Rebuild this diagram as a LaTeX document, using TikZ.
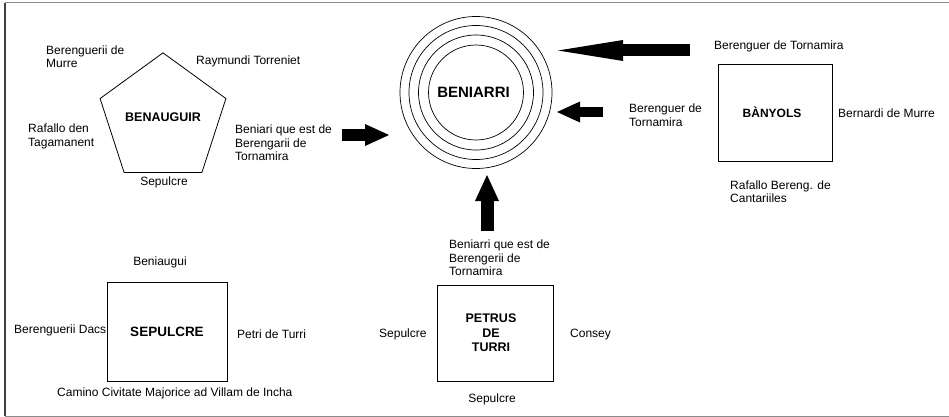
\documentclass[tikz,border=0pt]{standalone}
\usepackage{fontspec}
\setmainfont{Liberation Sans}
\usepackage{tikz}
\usepackage{xcolor}
\usetikzlibrary{shapes.geometric, arrows.meta, positioning}

\tikzset{
  lbl/.style={inner sep=0pt, align=left, font=\fontsize{12}{13.5}\selectfont},
  place/.style={draw, line width=0.8pt, inner sep=0pt, align=center, font=\bfseries\fontsize{12.5}{14.5}\selectfont},
  ring/.style={circle, draw, line width=0.7pt, inner sep=0pt},
  blockarrow/.style n args={3}{line width=#1, -{Triangle[length=#2, width=#3, line width=0pt]}}
}

\begin{document}
\begin{tikzpicture}[x=1pt, y=-1pt]
\useasboundingbox (0,0) rectangle (949,417);
% frame
\draw[black!75, line width=1.2pt] (5,416) -- (5,3);
\draw[black!45, line width=1pt] (5,3) -- (949,3);
\draw[black!45, line width=1pt] (5,416) -- (949,416);

% Benauguir
\node[place, regular polygon, regular polygon sides=5, minimum size=132pt] (benauguir) at (163,119) {\raisebox{3pt}{BENAUGUIR}};
\node[lbl, anchor=west] (bm) at (46,56.5) {Berenguerii de\\Murre};
\node[lbl, anchor=west] (rt) at (196,61) {Raymundi Torreniet};
\node[lbl, anchor=west] (rdt) at (28,136.5) {Rafallo den\\Tagamanent};
\node[lbl, anchor=west] (bqe) at (235,143) {Beniari que est de\\Berengarii de\\Tornamira};
\node[lbl] (sep1) at (164,182) {Sepulcre};

% Beniarri
\node[ring, minimum size=152pt] (ring1) at (476,92.5) {};
\node[ring, minimum size=134pt] (ring2) at (476,92.5) {};
\node[ring, minimum size=115pt] (ring3) at (476,92.5) {};
\node[ring, minimum size=95pt, font=\bfseries\fontsize{15}{17}\selectfont] (beniarri) at (476,92.5) {\hspace*{-5pt}BENIARRI};

% Banyols
\node[place, minimum width=114pt, minimum height=97pt, font=\bfseries\fontsize{12}{14}\selectfont] (banyols) at (775,112.5) {\hspace*{-6pt}BÀNYOLS};
\node[lbl, anchor=west] (bt1) at (714,46) {Berenguer de Tornamira};
\node[lbl, anchor=west] (bt2) at (629,115) {Berenguer de\\Tornamira};
\node[lbl, anchor=west] (bdm) at (838,113) {Bernardi de Murre};
\node[lbl, anchor=west] (rbc) at (730,191.5) {Rafallo Bereng. de\\Cantariiles};

% Sepulcre
\node[place, minimum width=120pt, minimum height=99pt, font=\bfseries\fontsize{13.5}{15}\selectfont] (sepulcre) at (167,331.5) {SEPULCRE};
\node[lbl] (bnia) at (160,262) {Beniaugui};
\node[lbl, anchor=west] (bdacs) at (14,330) {Berenguerii Dacs};
\node[lbl, anchor=west] (pdt) at (237,334) {Petri de Turri};
\node[lbl, anchor=west] (camino) at (57,393) {Camino Civitate Majorice ad Villam de Incha};

% Petrus de Turri
\node[place, minimum width=116pt, minimum height=96pt] (petrus) at (495,333) {\hspace*{-8pt}PETRUS\\\hspace*{-8pt}DE\\\hspace*{-8pt}TURRI};
\node[lbl, anchor=west] (bqe2) at (449,258) {Beniarri que est de\\Berengerii de\\Tornamira};
\node[lbl, anchor=west] (sep2) at (379,334) {Sepulcre};
\node[lbl, anchor=west] (consey) at (570,335) {Consey};
\node[lbl] (sep3) at (492,399) {Sepulcre};

% arrows towards Beniarri
\coordinate (a1s) at (342,135);
\coordinate (a1e) at (389,135);
\coordinate (a2s) at (690,50.5);
\coordinate (a2e) at (558,50.5);
\coordinate (a3s) at (603,112);
\coordinate (a3e) at (557,112);
\coordinate (a4s) at (487,231);
\coordinate (a4e) at (487,175);
\draw[blockarrow={12pt}{24pt}{22pt}] (a1s) -- (a1e);
\draw[blockarrow={12pt}{65pt}{21pt}] (a2s) -- (a2e);
\draw[blockarrow={10.5pt}{23pt}{21pt}] (a3s) -- (a3e);
\draw[blockarrow={13pt}{26pt}{24pt}] (a4s) -- (a4e);
\end{tikzpicture}
\end{document}
